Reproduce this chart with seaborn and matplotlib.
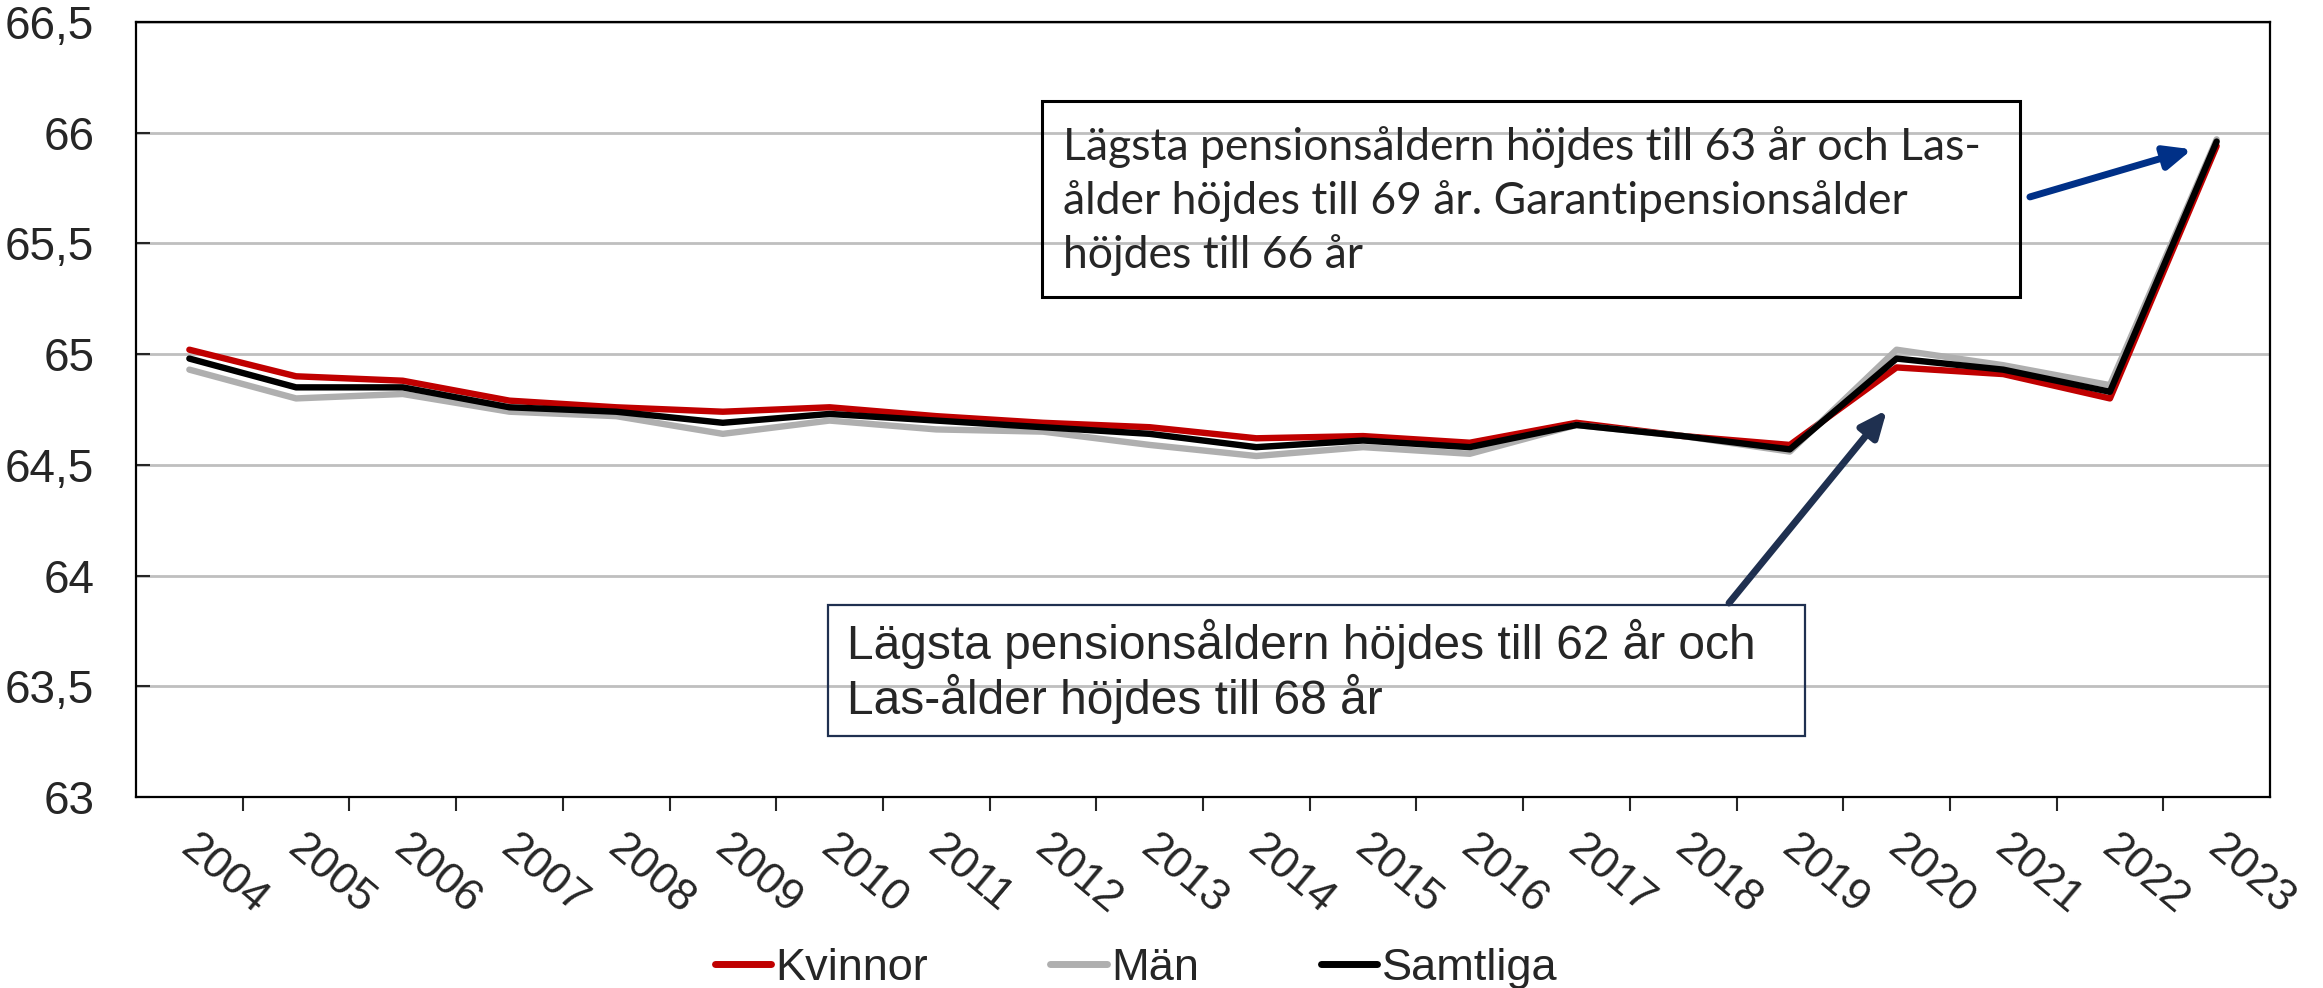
import pandas as pd
import matplotlib.pyplot as plt
import matplotlib.transforms as mtransforms
from matplotlib.patches import Rectangle
from matplotlib.ticker import FuncFormatter, MultipleLocator
import seaborn as sns

# Data
years = list(range(2004, 2024))
kvinnor = [65.02, 64.90, 64.88, 64.79, 64.76, 64.74, 64.76, 64.72, 64.69, 64.67,
           64.62, 64.63, 64.60, 64.69, 64.63, 64.59, 64.94, 64.91, 64.80, 65.94]
man = [64.93, 64.80, 64.82, 64.74, 64.72, 64.64, 64.70, 64.66, 64.65, 64.59,
       64.54, 64.58, 64.55, 64.68, 64.63, 64.56, 65.02, 64.95, 64.86, 65.97]
samtliga = [64.98, 64.85, 64.85, 64.76, 64.74, 64.69, 64.73, 64.70, 64.67, 64.64,
            64.58, 64.61, 64.58, 64.68, 64.63, 64.57, 64.98, 64.93, 64.83, 65.96]
series_names = ['Kvinnor', 'Män', 'Samtliga']
colors = ['#C00000', '#AFAFAF', '#000000']

text_top = ("Lägsta pensionsåldern höjdes till 63 år och Las-\n"
            "ålder höjdes till 69 år. Garantipensionsålder\n"
            "höjdes till 66 år")
text_bottom = ("Lägsta pensionsåldern höjdes till 62 år och\n"
               "Las-ålder höjdes till 68 år")

df = pd.DataFrame({'År': years * 3,
                   'Ålder': kvinnor + man + samtliga,
                   'Grupp': [n for n in series_names for _ in years]})

sns.set_style('white')
plt.rcParams['font.family'] = ['Liberation Sans', 'DejaVu Sans']

fig = plt.figure(figsize=(23.23, 9.88), dpi=100)
ax = fig.add_axes([136 / 2323, 1 - 797 / 988, (2270 - 136) / 2323, (797 - 22) / 988])

sns.lineplot(data=df, x='År', y='Ålder', hue='Grupp', hue_order=series_names,
             palette=colors, linewidth=4.6, ax=ax, legend=False)

ax.set_xlim(2003.5, 2023.5)
ax.set_ylim(63, 66.5)
ax.set_xlabel('')
ax.set_ylabel('')

# axes / grid
for s in ax.spines.values():
    s.set_visible(True)
    s.set_color('black')
    s.set_linewidth(1.6)
ax.yaxis.set_major_locator(MultipleLocator(0.5))
ax.yaxis.set_major_formatter(FuncFormatter(lambda v, p: f"{v:g}".replace('.', ',')))
ax.grid(axis='y', color='#BFBFBF', linewidth=2)
ax.set_axisbelow(True)
ax.tick_params(axis='y', direction='in', length=10, width=1.5, pad=30, labelsize=33,
               left=True)

ax.set_xticks(years)
ax.set_xticks([y + 0.5 for y in years[:-1]], minor=True)
ax.tick_params(axis='x', which='major', length=0, pad=22, labelsize=32)
ax.tick_params(axis='x', which='minor', direction='out', length=10, width=1.5, bottom=True)
offset = mtransforms.ScaledTranslation(0.10, 0, fig.dpi_scale_trans)
for lab in ax.get_xticklabels():
    lab.set_rotation(-40)
    lab.set_ha('left')
    lab.set_va('top')
    lab.set_rotation_mode('anchor')
    lab.set_transform(lab.get_transform() + offset)

# annotation boxes
ax.add_patch(Rectangle((2011.99, 65.258), 9.17, 0.885, fill=False,
                       edgecolor='black', linewidth=2.2, zorder=5))
ax.text(2012.19, 65.69, text_top, family=['Lato', 'DejaVu Sans'], fontsize=32,
        ha='left', va='center', linespacing=1.36, zorder=6)
ax.add_patch(Rectangle((2009.99, 63.275), 9.15, 0.592, fill=False,
                       edgecolor='#1F3050', linewidth=1.6, zorder=5))
ax.text(2010.16, 63.565, text_bottom, fontsize=34.5, ha='left', va='center',
        linespacing=1.12, zorder=6)

# arrows
ax.annotate('', xy=(2022.77, 65.925), xytext=(2021.25, 65.71),
            arrowprops=dict(arrowstyle='-|>,head_length=1.6,head_width=0.7',
                            color='#003087', lw=5, shrinkA=0, shrinkB=0), zorder=6)
ax.annotate('', xy=(2019.91, 64.748), xytext=(2018.43, 63.876),
            arrowprops=dict(arrowstyle='-|>,head_length=1.6,head_width=0.7',
                            color='#1F3050', lw=5, shrinkA=0, shrinkB=0), zorder=6)

# legend
handles = [plt.Line2D([], [], color=c, linewidth=5) for c in colors]
fig.legend(handles, series_names, loc='center', bbox_to_anchor=(1136 / 2323, 0.02),
           ncol=3, frameon=False, fontsize=32.5, handlelength=1.25, handletextpad=0.1,
           columnspacing=2.7, borderpad=0)

fig.savefig('out.png', dpi=100)
